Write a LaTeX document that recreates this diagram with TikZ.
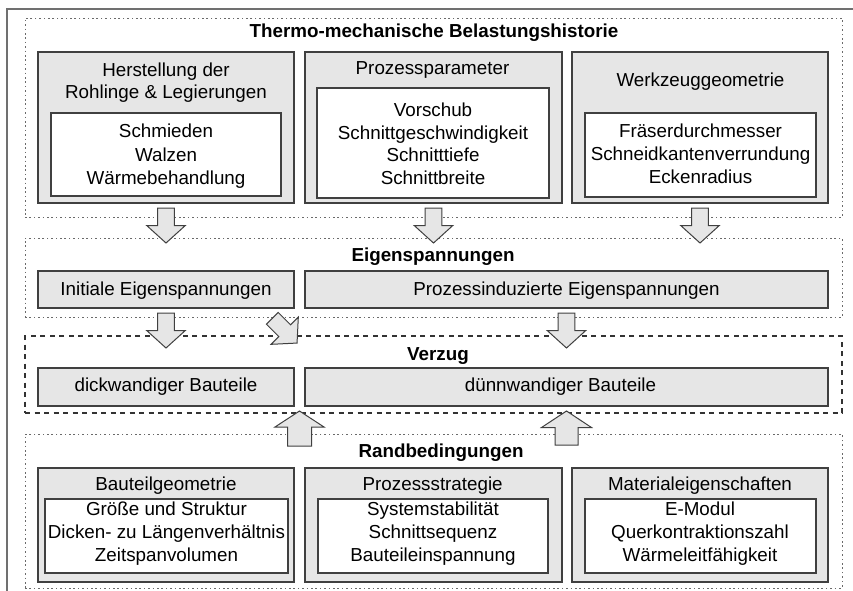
\documentclass[tikz,border=0pt]{standalone}
\usepackage{fontspec}
\setmainfont{Liberation Sans}
\usetikzlibrary{calc,fit}
\definecolor{boxfill}{HTML}{E6E6E6}
\definecolor{boxline}{HTML}{404040}
\definecolor{dotline}{HTML}{6A6A6A}
\definecolor{frameline}{HTML}{707070}
\begin{document}
\begin{tikzpicture}[x=1pt,y=-1pt,
  every node/.style={inner sep=0pt, outer sep=0pt},
  txt/.style={font=\fontsize{18.8}{23}\selectfont, anchor=base, align=center, text=black},
  ttl/.style={font=\bfseries\fontsize{18.8}{23}\selectfont, anchor=base, text=black},
  gbox/.style={draw=boxline, fill=boxfill, line width=1.2pt},
  wbox/.style={draw=boxline, fill=white, line width=1.2pt},
  grp/.style={draw=dotline, line width=1pt, dash pattern=on 1.6pt off 2.8pt},
  grpv/.style={draw=black!80, line width=1.8pt, dash pattern=on 5pt off 4.5pt},
  barrow/.style={draw=boxline, fill=boxfill, line width=1pt, line join=miter},
  pics/blk/.style n args={4}{code={
    \path[barrow] (-#1,0) -- (#1,0) -- (#1,#4-#3) -- (#2,#4-#3) -- (0,#4)
      -- (-#2,#4-#3) -- (-#1,#4-#3) -- cycle;
  }}
]
\useasboundingbox (0,0) rectangle (853,590);
\draw[frameline, line width=1.5pt] (7,592) -- (7,9) -- (855,9);

% ---- groups
\node[grp, fit={(25,18) (842,217)}] (g1) {};
\node[grp, fit={(25,238) (842,317)}] (g2) {};
\node[grpv, fit={(25,336) (842,413)}] (g3) {};
\node[grp, fit={(25,434) (842,588)}] (g4) {};

% ---- group 1 (multi-line nodes: base = last line)
\node[ttl] (t1) at (434,37) {Thermo-mechanische Belastungshistorie};
\node[gbox, fit={(38,52) (294,203)}] (b1) {};
\node[wbox, fit={(51,113) (281,196)}] (w1) {};
\node[gbox, fit={(305,52) (562,203)}] (b2) {};
\node[wbox, fit={(317,88) (549,198)}] (w2) {};
\node[gbox, fit={(572,52) (828,203)}] (b3) {};
\node[wbox, fit={(585,113) (816,197)}] (w3) {};
\node[txt, font=\fontsize{18.8}{22}\selectfont] (b1t) at (166,98.5) {Herstellung der\\Rohlinge \& Legierungen};
\node[txt, font=\fontsize{18.8}{23.5}\selectfont] (w1t) at (166,184.5) {Schmieden\\Walzen\\Wärmebehandlung};
\node[txt] (b2t) at (432.5,74.5) {Prozessparameter};
\node[txt, font=\fontsize{18.8}{22.6}\selectfont] (w2t) at (433,184.5) {Vorschub\\Schnittgeschwindigkeit\\Schnitttiefe\\Schnittbreite};
\node[txt] (b3t) at (700.5,86) {Werkzeuggeometrie};
\node[txt] (w3t) at (700.5,183.5) {Fräserdurchmesser\\Schneidkantenverrundung\\Eckenradius};

% ---- group 2
\node[ttl] (t2) at (433,261) {Eigenspannungen};
\node[gbox, fit={(38,271) (294,308)}] (e1) {};
\node[gbox, fit={(305,271) (828,308)}] (e2) {};
\node[txt] (e1t) at (166,295) {Initiale Eigenspannungen};
\node[txt] (e2t) at (566.5,295) {Prozessinduzierte Eigenspannungen};

% ---- group 3
\node[ttl] (t3) at (438,360) {Verzug};
\node[gbox, fit={(38,368) (294,406)}] (v1) {};
\node[gbox, fit={(305,368) (828,406)}] (v2) {};
\node[txt] (v1t) at (166,391.5) {dickwandiger Bauteile};
\node[txt] (v2t) at (560.5,391.5) {dünnwandiger Bauteile};

% ---- group 4
\node[ttl] (t4) at (441,457.5) {Randbedingungen};
\node[gbox, fit={(38,468) (294,582)}] (r1) {};
\node[wbox, fit={(45,499) (288,573)}] (q1) {};
\node[gbox, fit={(305,468) (562,582)}] (r2) {};
\node[wbox, fit={(318,499) (548,573)}] (q2) {};
\node[gbox, fit={(572,468) (828,582)}] (r3) {};
\node[wbox, fit={(585,499) (816,573)}] (q3) {};
\node[txt] (r1t) at (166,490.5) {Bauteilgeometrie};
\node[txt] (r2t) at (432.7,490.5) {Prozessstrategie};
\node[txt] (r3t) at (700,490.5) {Materialeigenschaften};
\node[txt] (q1t) at (166.5,561) {Größe und Struktur\\Dicken- zu Längenverhältnis\\Zeitspanvolumen};
\node[txt] (q2t) at (433,561) {Systemstabilität\\Schnittsequenz\\Bauteileinspannung};
\node[txt] (q3t) at (700,561) {E-Modul\\Querkontraktionszahl\\Wärmeleitfähigkeit};

% ---- block arrows
\coordinate (vmid) at ($(v1.south east)!.5!(v2.south west)$);
\pic at ($(b1.south|-g1.south)+(0,-9)$) {blk={8.3}{19.3}{17.5}{35}};
\pic at ($(b2.south|-g1.south)+(0,-9)$) {blk={8.3}{19.3}{17.5}{35}};
\pic at ($(b3.south|-g1.south)+(0,-9)$) {blk={8.3}{19.3}{17.5}{35}};
\pic at ($(e1.south|-g2.south)+(0,-4)$) {blk={8.3}{19.3}{17.5}{35}};
\pic at ($(e2.south|-g2.south)+(0,-4)$) {blk={8.3}{19.3}{17.5}{35}};
\pic[rotate=45] at ($(e1.south east)+(-21.7,10.3)$) {blk={8.3}{19.3}{17.5}{35}};
\pic[rotate=180] at ($(vmid|-g4.north)+(0,12)$) {blk={12}{24.5}{16}{35}};
\pic[rotate=180] at ($(e2.south|-g4.north)+(0,11)$) {blk={11.5}{25}{16.5}{34}};
\end{tikzpicture}
\end{document}
